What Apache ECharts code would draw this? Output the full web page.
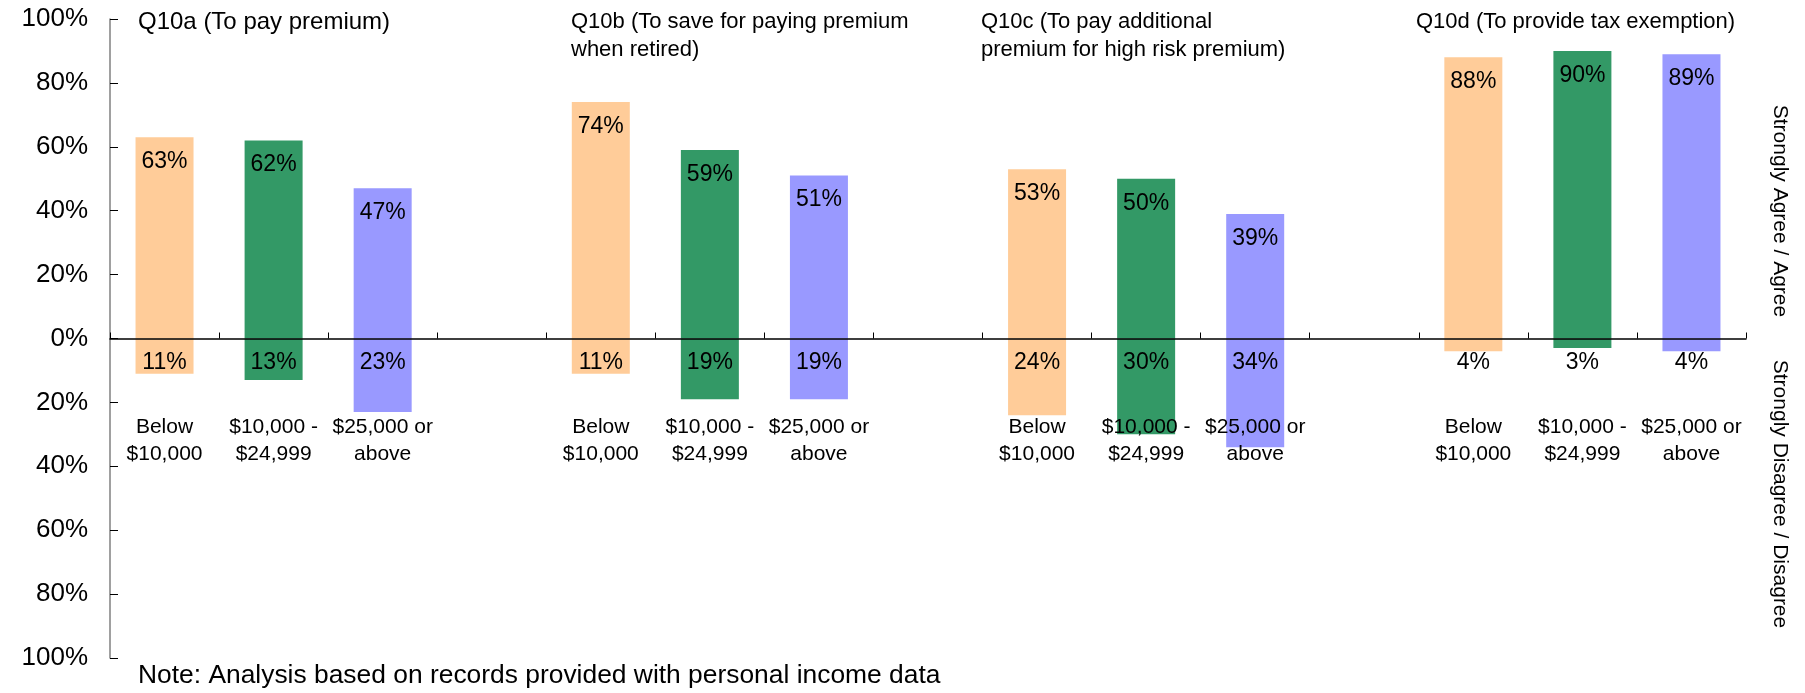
<!DOCTYPE html>
<html>
<head>
<meta charset="utf-8">
<script src="https://cdn.jsdelivr.net/npm/echarts@6/dist/echarts.min.js"></script>
<style>
  html, body { margin: 0; padding: 0; background: #fff; }
  #chart { width: 1805px; height: 693px; }
</style>
</head>
<body>
<div id="chart"></div>
<script>
const incomeBands = ['Below\n$10,000', '$10,000 -\n$24,999', '$25,000 or\nabove'];
const bandColors = ['#FFCC99', '#339966', '#9999FF'];
const questions = [
  'Q10a (To pay premium)',
  'Q10b (To save for paying premium\nwhen retired)',
  'Q10c (To pay additional\npremium for high risk premium)',
  'Q10d (To provide tax exemption)'
];
// % strongly agree / agree, per question, per income band
const agree = [
  [63, 62, 47],
  [74, 59, 51],
  [53, 50, 39],
  [88, 90, 89]
];
// % strongly disagree / disagree
const disagree = [
  [11, 13, 23],
  [11, 19, 19],
  [24, 30, 34],
  [4, 3, 4]
];
const yTicks = [-100, -80, -60, -40, -20, 0, 20, 40, 60, 80, 100];

const chart = echarts.init(document.getElementById('chart'));

// build the flat category axis: 3 bands per question, blank slot between groups
const categories = [];
const agreeData = [];
const disagreeData = [];
questions.forEach(function (q, qi) {
  incomeBands.forEach(function (band, bi) {
    categories.push(band);
    agreeData.push({ value: agree[qi][bi], itemStyle: { color: bandColors[bi] } });
    disagreeData.push({ value: -disagree[qi][bi], itemStyle: { color: bandColors[bi] } });
  });
  if (qi < questions.length - 1) {
    categories.push('');
    agreeData.push('-');
    disagreeData.push('-');
  }
});

const titleX = [138, 571, 981, 1416];
const titleSize = [24, 22, 22, 22];
const titles = questions.map(function (q, i) {
  return {
    text: q,
    left: titleX[i],
    top: 8,
    padding: 0,
    textStyle: {
      fontFamily: 'Liberation Sans, Arial',
      fontSize: titleSize[i],
      fontWeight: 'normal',
      color: '#000',
      lineHeight: 28
    }
  };
});
titles.push({
  text: 'Note: Analysis based on records provided with personal income data',
  left: 138,
  top: 663,
  padding: 0,
  textStyle: {
    fontFamily: 'Liberation Sans, Arial',
    fontSize: 26.4,
    fontWeight: 'normal',
    color: '#000'
  }
});

const barLabel = {
  show: true,
  position: 'insideTop',
  distance: 13,
  fontFamily: 'Liberation Sans, Arial',
  fontSize: 23,
  color: '#000',
  formatter: function (p) { return Math.abs(p.value) + '%'; }
};

chart.setOption({
  animation: false,
  title: titles,
  grid: { left: 110, right: 59, top: 19, bottom: 35, containLabel: false, outerBoundsMode: 'none' },
  xAxis: {
    type: 'category',
    data: categories,
    z: 5,
    axisLine: { onZero: true, lineStyle: { color: '#000', width: 1.5 } },
    axisTick: { show: true, inside: true, length: 6, interval: 0, lineStyle: { color: '#000' } },
    axisLabel: {
      interval: 0,
      margin: -244,
      fontFamily: 'Liberation Sans, Arial',
      fontSize: 21,
      lineHeight: 27,
      color: '#000'
    }
  },
  yAxis: {
    type: 'value',
    min: yTicks[0],
    max: yTicks[yTicks.length - 1],
    interval: 20,
    splitLine: { show: false },
    axisLine: { show: true, lineStyle: { color: '#808080', width: 1.5 } },
    axisTick: { show: true, inside: true, length: 8, lineStyle: { color: '#000' } },
    axisLabel: {
      margin: 22,
      fontFamily: 'Liberation Sans, Arial',
      fontSize: 26,
      color: '#000',
      formatter: function (v) { return Math.abs(v) + '%'; }
    }
  },
  graphic: [
    {
      type: 'text',
      x: 1780, y: 211,
      rotation: -Math.PI / 2,
      style: {
        text: 'Strongly Agree / Agree',
        fontFamily: 'Liberation Sans, Arial',
        fontSize: 21,
        fill: '#000',
        align: 'center',
        verticalAlign: 'middle'
      }
    },
    {
      type: 'text',
      x: 1780, y: 494,
      rotation: -Math.PI / 2,
      style: {
        text: 'Strongly Disagree / Disagree',
        fontFamily: 'Liberation Sans, Arial',
        fontSize: 21,
        fill: '#000',
        align: 'center',
        verticalAlign: 'middle'
      }
    }
  ],
  series: [
    {
      name: 'Strongly Agree / Agree',
      type: 'bar',
      data: agreeData,
      barWidth: 58,
      barGap: '-100%',
      label: barLabel
    },
    {
      name: 'Strongly Disagree / Disagree',
      type: 'bar',
      data: disagreeData,
      barWidth: 58,
      label: barLabel
    }
  ]
});
</script>
</body>
</html>
